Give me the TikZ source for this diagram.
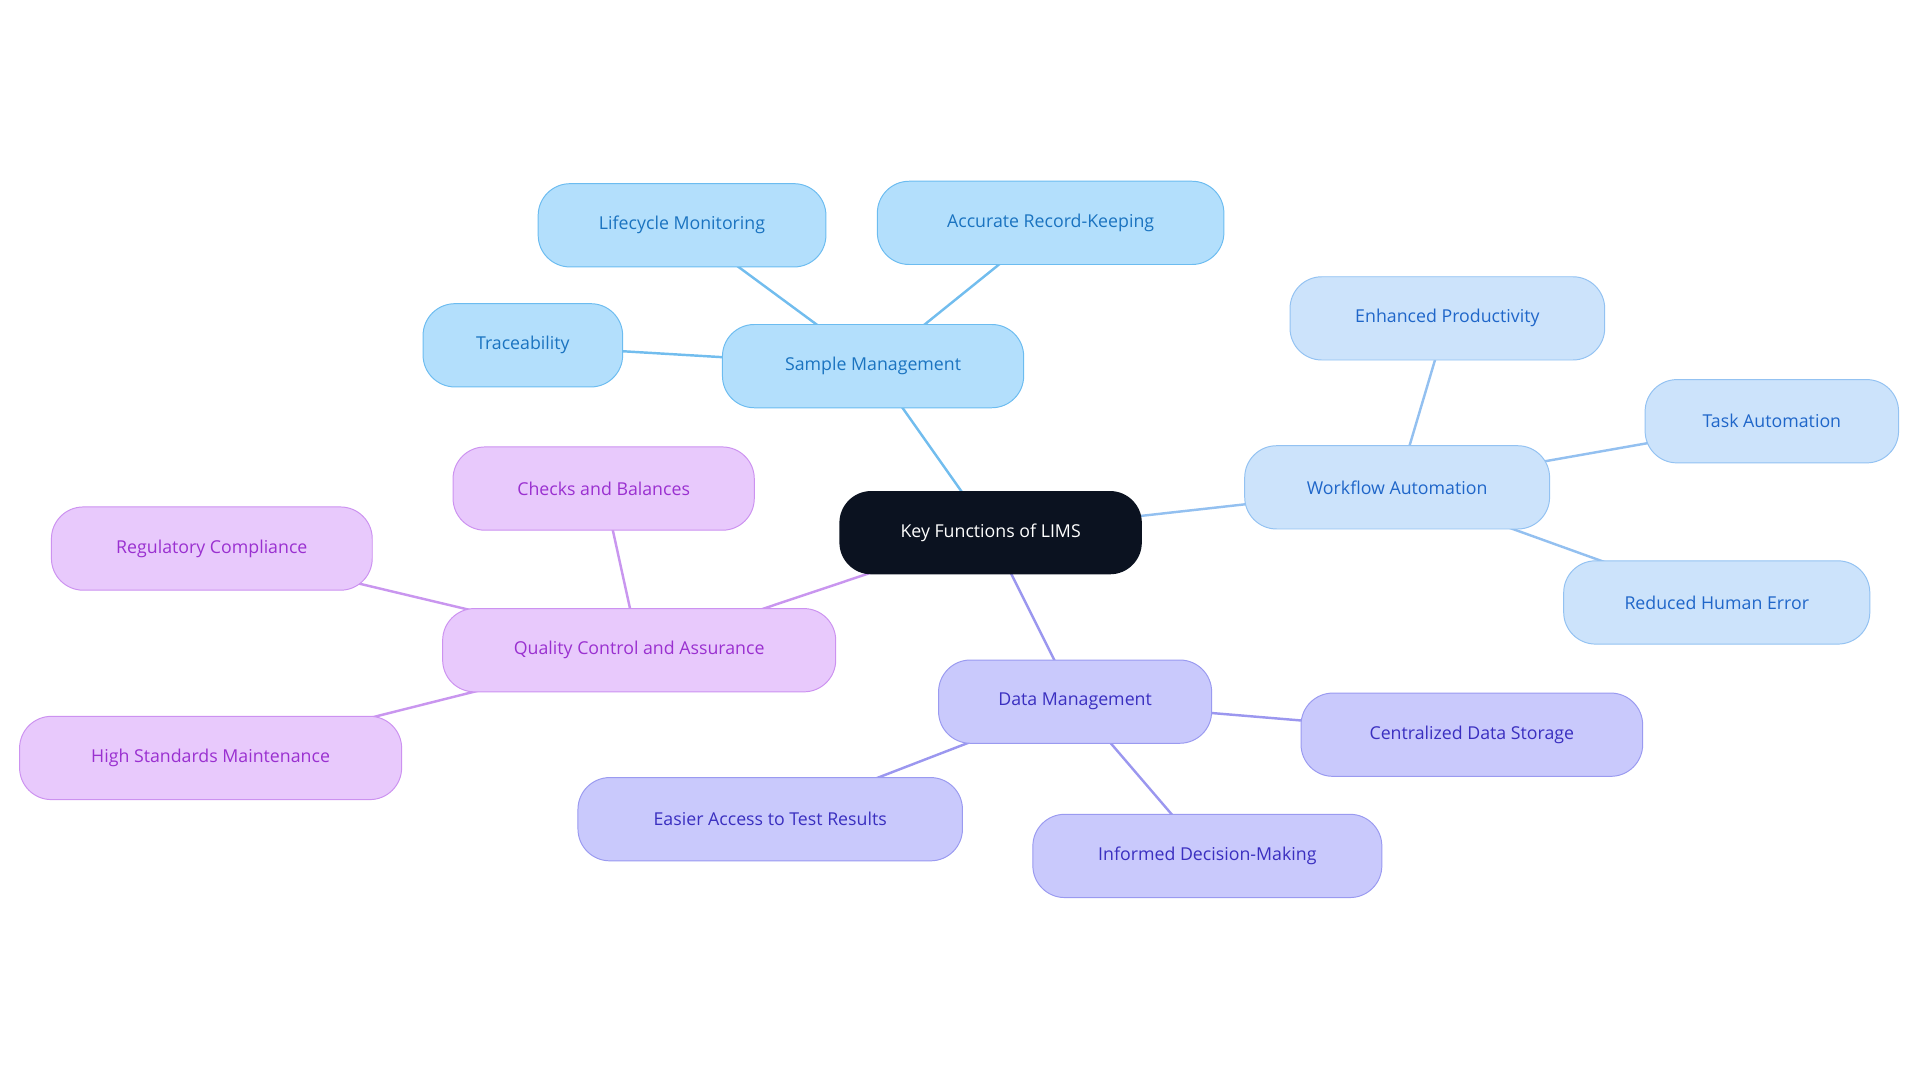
\documentclass[tikz,border=0pt]{standalone}
\usepackage{fontspec}
\setmainfont{Open Sans}
\usetikzlibrary{backgrounds}
\definecolor{sF}{HTML}{B3DFFC}\definecolor{sD}{HTML}{6CBCF0}\definecolor{sT}{HTML}{1A73C0}\definecolor{sE}{HTML}{72BDEE}
\definecolor{wF}{HTML}{CCE3FB}\definecolor{wD}{HTML}{93C2F2}\definecolor{wT}{HTML}{1F66C9}\definecolor{wE}{HTML}{93C0F0}
\definecolor{dF}{HTML}{C9C9FC}\definecolor{dD}{HTML}{9A9AF0}\definecolor{dT}{HTML}{3A2FC0}\definecolor{dE}{HTML}{9B97EF}
\definecolor{qF}{HTML}{E8C9FC}\definecolor{qD}{HTML}{CC92F0}\definecolor{qT}{HTML}{9A30D0}\definecolor{qE}{HTML}{C996EF}
\definecolor{rootF}{HTML}{0B1220}
\tikzset{
 box/.style={rounded corners=26pt,minimum height=68pt,font=\fontsize{14.5pt}{17pt}\selectfont,line width=0.8pt,inner sep=0pt},
 sbox/.style={box,fill=sF,draw=sD,text=sT},
 wbox/.style={box,fill=wF,draw=wD,text=wT},
 dbox/.style={box,fill=dF,draw=dD,text=dT},
 qbox/.style={box,fill=qF,draw=qD,text=qT},
 se/.style={draw=sE,line width=2pt},we/.style={draw=wE,line width=2pt},
 de/.style={draw=dE,line width=2pt},qe/.style={draw=qE,line width=2pt},
}
\begin{document}
\begin{tikzpicture}[x=1pt,y=-1pt]
\useasboundingbox (0,0) rectangle (1568,884);
\node[box,fill=rootF,text=white,minimum width=247pt] (root) at (809,435) {Key Functions of LIMS};
\node[sbox,minimum width=246pt] (sm) at (713,299) {Sample Management};
\node[sbox,minimum width=235pt] (lm) at (557,184) {Lifecycle Monitoring};
\node[sbox,minimum width=283pt] (ar) at (858,182) {Accurate Record-Keeping};
\node[sbox,minimum width=163pt] (tr) at (427,282) {Traceability};
\node[wbox,minimum width=249pt] (wa) at (1141,398) {Workflow Automation};
\node[wbox,minimum width=257pt] (ep) at (1182,260) {Enhanced Productivity};
\node[wbox,minimum width=207pt] (ta) at (1447,344) {Task Automation};
\node[wbox,minimum width=250pt] (rh) at (1402,492) {Reduced Human Error};
\node[dbox,minimum width=223pt] (dm) at (878,573) {Data Management};
\node[dbox,minimum width=279pt] (cd) at (1202,600) {Centralized Data Storage};
\node[dbox,minimum width=314pt] (ea) at (629,669) {Easier Access to Test Results};
\node[dbox,minimum width=285pt] (id) at (986,699) {Informed Decision-Making};
\node[qbox,minimum width=321pt] (qc) at (522,531) {Quality Control and Assurance};
\node[qbox,minimum width=246pt] (cb) at (493,399) {Checks and Balances};
\node[qbox,minimum width=262pt] (rc) at (173,448) {Regulatory Compliance};
\node[qbox,minimum width=312pt] (hs) at (172,619) {High Standards Maintenance};
\begin{scope}[on background layer]
\path[se] (root.center) -- (sm.center);
\path[se] (sm.center) -- (lm.center) (sm.center) -- (ar.center) (sm.center) -- (tr.center);
\path[we] (root.center) -- (wa.center) (wa.center) -- (ep.center) (wa.center) -- (ta.center) (wa.center) -- (rh.center);
\path[de] (root.center) -- (dm.center) (dm.center) -- (cd.center) (dm.center) -- (ea.center) (dm.center) -- (id.center);
\path[qe] (root.center) -- (qc.center) (qc.center) -- (cb.center) (qc.center) -- (rc.center) (qc.center) -- (hs.center);
\end{scope}
\end{tikzpicture}
\end{document}
